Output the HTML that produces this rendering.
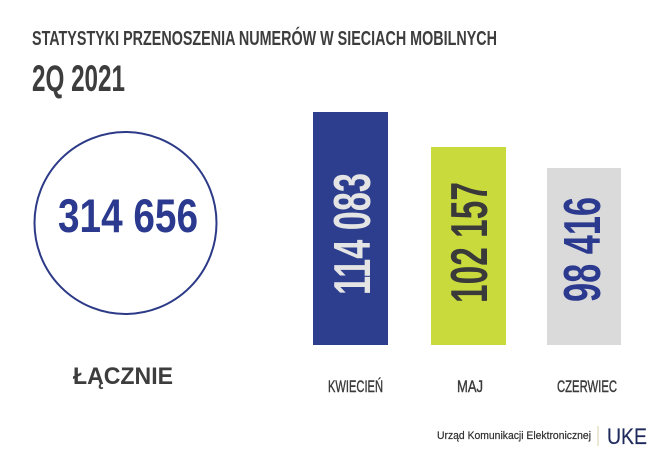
<!DOCTYPE html>
<html>
<head>
<meta charset="utf-8">
<style>
html,body{margin:0;padding:0;background:#ffffff;}
svg{display:block;}
text{font-family:"Liberation Sans", "DejaVu Sans", sans-serif;}
</style>
</head>
<body>
<svg width="655" height="463" viewBox="0 0 655 463" xmlns="http://www.w3.org/2000/svg">
  <rect x="0" y="0" width="655" height="463" fill="#ffffff"/>
  <!-- Title -->
  <text x="32" y="45" font-size="20" font-weight="bold" fill="#3d3d3d" textLength="465" lengthAdjust="spacingAndGlyphs">STATYSTYKI PRZENOSZENIA NUMERÓW W SIECIACH MOBILNYCH</text>
  <text x="32" y="91" font-size="37" font-weight="bold" fill="#3d3d3d" textLength="93" lengthAdjust="spacingAndGlyphs">2Q 2021</text>

  <!-- Circle -->
  <circle cx="125.5" cy="223" r="91" fill="none" stroke="#2c3a87" stroke-width="2"/>
  <text x="58" y="232" font-size="47" font-weight="bold" fill="#2b3a8f" textLength="140" lengthAdjust="spacingAndGlyphs">314 656</text>
  <text x="73" y="384" font-size="24" font-weight="bold" fill="#3d3d3d" textLength="100" lengthAdjust="spacingAndGlyphs">ŁĄCZNIE</text>

  <!-- Bars -->
  <rect x="313" y="112" width="75" height="233" fill="#2d3e8f"/>
  <rect x="431" y="147" width="75" height="198" fill="#c9da3c"/>
  <rect x="547" y="168" width="74" height="177" fill="#dadada"/>

  <text transform="translate(370,295) rotate(-90)" x="0" y="0" font-size="52" font-weight="bold" fill="#e4e4e4" textLength="122" lengthAdjust="spacingAndGlyphs">114 083</text>
  <text transform="translate(487,303) rotate(-90)" x="0" y="0" font-size="52" font-weight="bold" fill="#3a3a3a" textLength="121" lengthAdjust="spacingAndGlyphs">102 157</text>
  <text transform="translate(600,302) rotate(-90)" x="0" y="0" font-size="52" font-weight="bold" fill="#2b3a8f" textLength="105" lengthAdjust="spacingAndGlyphs">98 416</text>

  <!-- Labels -->
  <text x="328" y="392" font-size="17" fill="#3a3a3a" stroke="#3a3a3a" stroke-width="0.4" textLength="55" lengthAdjust="spacingAndGlyphs">KWIECIEŃ</text>
  <text x="457" y="392" font-size="17" fill="#3a3a3a" stroke="#3a3a3a" stroke-width="0.4" textLength="26" lengthAdjust="spacingAndGlyphs">MAJ</text>
  <text x="557" y="392" font-size="17" fill="#3a3a3a" stroke="#3a3a3a" stroke-width="0.4" textLength="60" lengthAdjust="spacingAndGlyphs">CZERWIEC</text>

  <!-- Footer -->
  <text x="437" y="439" font-size="11" fill="#2e2e2e" stroke="#2e2e2e" stroke-width="0.2" textLength="154" lengthAdjust="spacingAndGlyphs">Urząd Komunikacji Elektronicznej</text>
  <line x1="598" y1="426" x2="598" y2="446" stroke="#e6dfc6" stroke-width="1.5"/>
  <text x="607" y="444" font-size="22" fill="#1f2a5c" stroke="#1f2a5c" stroke-width="0.2" textLength="40" lengthAdjust="spacingAndGlyphs">UKE</text>
</svg>
</body>
</html>
